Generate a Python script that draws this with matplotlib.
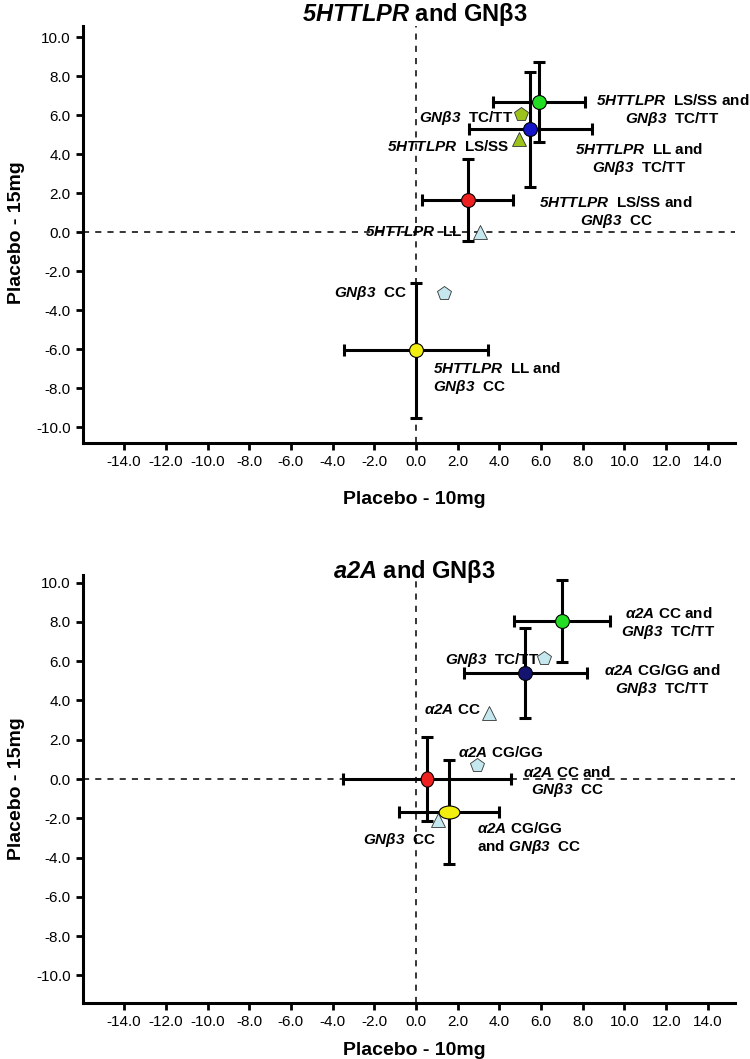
import numpy as np
import matplotlib
matplotlib.use("Agg")
import matplotlib.pyplot as plt
from matplotlib.path import Path
from matplotlib.transforms import Affine2D

plt.rcParams['font.family'] = ['Liberation Sans', 'DejaVu Sans']
plt.rcParams['mathtext.fontset'] = 'custom'
plt.rcParams['mathtext.it'] = 'Liberation Sans:italic:bold'
plt.rcParams['mathtext.rm'] = 'Liberation Sans:italic:bold'
plt.rcParams['mathtext.bf'] = 'Liberation Sans:bold'

# ---- panel 1: 5HTTLPR and GNb3 ----
top_combo_x = [5.9, 5.47, 2.49, 0.0]
top_combo_y = [6.67, 5.28, 1.64, -6.05]
top_combo_xerr = [2.2, 2.95, 2.18, 3.45]
top_combo_yerr = [2.05, 2.96, 2.1, 3.45]
top_combo_colors = ['#22dd22', '#1414c8', '#ee2020', '#f2ee10']
top_combo_labels = [
    "$\\mathit{5HTTLPR}$  LS/SS and\n$\\mathit{GNβ3}$  TC/TT",
    "$\\mathit{5HTTLPR}$  LL and\n$\\mathit{GNβ3}$  TC/TT",
    "$\\mathit{5HTTLPR}$  LS/SS and\n$\\mathit{GNβ3}$  CC",
    "$\\mathit{5HTTLPR}$  LL and\n$\\mathit{GNβ3}$  CC",
]
top_single_x = [5.03, 4.94, 3.07, 1.34]
top_single_y = [6.05, 4.77, 0.0, -3.1]
top_single_markers = ['p', '^', '^', 'p']
top_single_colors = ['#9cc21c', '#9cc21c', '#c4e8ee', '#c4e8ee']
top_single_labels = [
    "$\\mathit{GNβ3}$  TC/TT",
    "$\\mathit{5HTTLPR}$  LS/SS",
    "$\\mathit{5HTTLPR}$  LL",
    "$\\mathit{GNβ3}$  CC",
]

# ---- panel 2: a2A and GNb3 ----
bot_combo_x = [7.0, 5.23, 0.53, 1.58]
bot_combo_y = [8.04, 5.39, 0.0, -1.68]
bot_combo_xerr = [2.3, 2.95, 4.03, 2.4]
bot_combo_yerr = [2.1, 2.3, 2.15, 2.65]
bot_combo_colors = ['#22dd22', '#141470', '#ee2020', '#f2ee10']
bot_combo_labels = [
    "$\\mathit{α2A}$ CC and\n$\\mathit{GNβ3}$  TC/TT",
    "$\\mathit{α2A}$ CG/GG and\n$\\mathit{GNβ3}$  TC/TT",
    "$\\mathit{α2A}$ CC and\n$\\mathit{GNβ3}$  CC",
    "$\\mathit{α2A}$ CG/GG\nand $\\mathit{GNβ3}$  CC",
]
bot_single_x = [6.14, 3.5, 2.92, 1.05]
bot_single_y = [6.16, 3.36, 0.71, -2.09]
bot_single_markers = ['p', '^', 'p', '^']
bot_single_colors = ['#c4e8ee', '#c4e8ee', '#c4e8ee', '#c4e8ee']
bot_single_labels = [
    "$\\mathit{GNβ3}$  TC/TT",
    "$\\mathit{α2A}$ CC",
    "$\\mathit{α2A}$ CG/GG",
    "$\\mathit{GNβ3}$  CC",
]

xticks = np.arange(-14, 15, 2)
yticks = np.arange(-10, 11, 2)

# label placement (x, y, ha / multialignment)
top_combo_pos = [(12.3, 6.25, 'center'), (10.7, 3.75, 'center'),
                 (9.6, 1.03, 'center'), (0.8, -7.5, 'left')]
top_single_pos = [(4.65, 5.85, 'right'), (4.5, 4.41, 'right'),
                  (2.2, 0.0, 'right'), (-0.43, -3.1, 'right')]
bot_combo_pos = [(12.1, 7.94, 'center'), (11.8, 5.0, 'center'),
                 (7.24, -0.15, 'center'), (2.92, -3.05, 'left')]
bot_single_pos = [(5.9, 6.06, 'right'), (3.12, 3.5, 'right'),
                  (2.0, 1.37, 'left'), (0.96, -3.1, 'right')]

circle = 'o'
tall_oval = Path.unit_circle().transformed(Affine2D().scale(1.0, 1.2))
wide_oval = Path.unit_circle().transformed(Affine2D().scale(1.6, 1.0))


def draw_panel(ax, cx, cy, cxe, cye, ccol, clab, cpos, cmarks, csizes,
               sx, sy, smk, scol, slab, spos, ylim):
    ax.axhline(0, color='black', lw=1.1, ls=(0, (4, 4)), zorder=1)
    ax.axvline(0, color='black', lw=1.1, ls=(0, (4, 4)), zorder=1)
    ax.errorbar(cx, cy, xerr=cxe, yerr=cye, fmt='none', ecolor='black',
                elinewidth=2.2, capsize=4.5, capthick=2.2, zorder=2)
    for x, y, c, m, s in zip(cx, cy, ccol, cmarks, csizes):
        ax.plot(x, y, marker=m, ms=s, mfc=c, mec='black', mew=0.8,
                ls='none', zorder=4)
    for x, y, m, c in zip(sx, sy, smk, scol):
        ax.plot(x, y, marker=m, ms=10, mfc=c, mec='#333333', mew=0.6,
                ls='none', zorder=3)
    for t, (x, y, ha) in zip(clab, cpos):
        ax.text(x, y, t, ha=ha, va='center', ma=ha, fontsize=11,
                fontweight='bold', linespacing=1.15, zorder=5)
    for t, (x, y, ha) in zip(slab, spos):
        ax.text(x, y, t, ha=ha, va='center', fontsize=11,
                fontweight='bold', zorder=5)
    ax.set_xlim(-15.96, 15.3)
    ax.set_ylim(*ylim)
    ax.set_xticks(xticks)
    ax.set_yticks(yticks)
    ax.set_xticklabels(['%.1f' % v for v in xticks])
    ax.set_yticklabels(['%.1f' % v for v in yticks])
    ax.tick_params(labelsize=11, width=2, length=5, pad=4)
    for s in ['top', 'right']:
        ax.spines[s].set_visible(False)
    for s in ['left', 'bottom']:
        ax.spines[s].set_linewidth(2.2)


fig = plt.figure(figsize=(7.5, 10.59), dpi=100)
ax1 = fig.add_axes([0.111, 0.5817, 0.869, 0.394])
ax2 = fig.add_axes([0.111, 0.0529, 0.869, 0.404])

draw_panel(ax1, top_combo_x, top_combo_y, top_combo_xerr, top_combo_yerr,
           top_combo_colors, top_combo_labels, top_combo_pos,
           [circle] * 4, [10, 10, 10, 10],
           top_single_x, top_single_y, top_single_markers, top_single_colors,
           top_single_labels, top_single_pos, (-10.8, 10.6))
draw_panel(ax2, bot_combo_x, bot_combo_y, bot_combo_xerr, bot_combo_yerr,
           bot_combo_colors, bot_combo_labels, bot_combo_pos,
           [circle, circle, tall_oval, wide_oval], [10, 10, 11, 15],
           bot_single_x, bot_single_y, bot_single_markers, bot_single_colors,
           bot_single_labels, bot_single_pos, (-11.4, 10.38))

fig.text(0.553, 0.986, "$\\mathit{5HTTLPR}$ and GNβ3", ha='center', va='center',
         fontsize=17, fontweight='bold')
fig.text(0.553, 0.460, "$\\mathit{a2A}$ and GNβ3", ha='center', va='center',
         fontsize=17, fontweight='bold')
fig.text(0.553, 0.528, "Placebo - 10mg", ha='center', va='center',
         fontsize=14, fontweight='bold')
fig.text(0.553, 0.008, "Placebo - 10mg", ha='center', va='center',
         fontsize=14, fontweight='bold')
fig.text(0.022, 0.78, "Placebo - 15mg", ha='center', va='center',
         rotation=90, fontsize=14, fontweight='bold')
fig.text(0.022, 0.255, "Placebo - 15mg", ha='center', va='center',
         rotation=90, fontsize=14, fontweight='bold')

fig.savefig('out.png', dpi=100)
